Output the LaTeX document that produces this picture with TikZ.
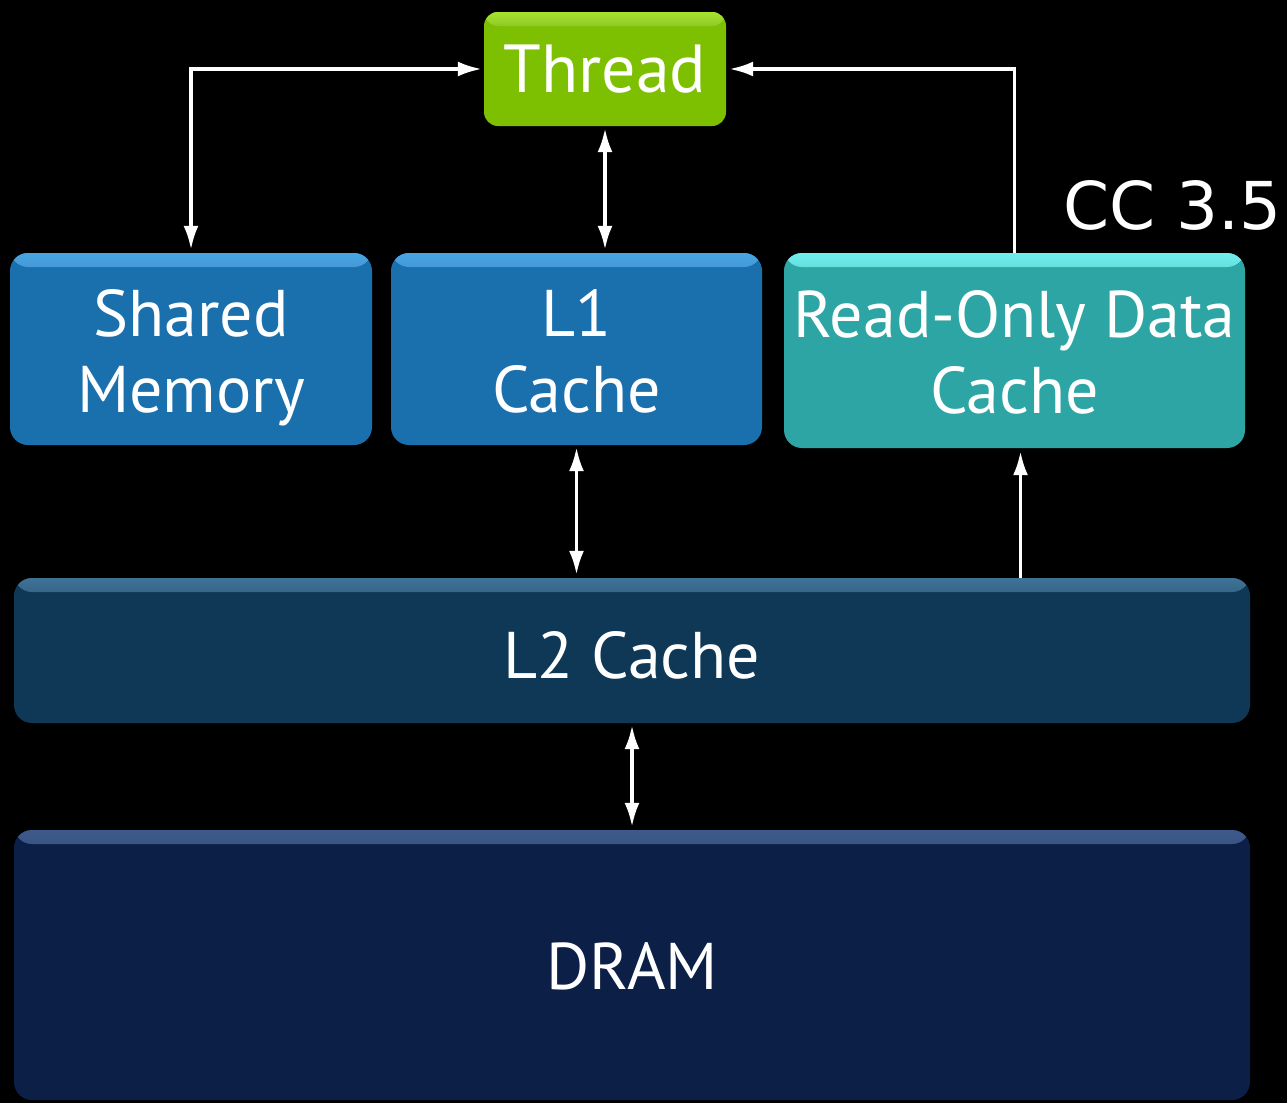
\documentclass[tikz,border=0pt]{standalone}
\usepackage{fontspec}
\setmainfont{PT Sans}
\newfontfamily\ccfont{DejaVu Sans}
\usetikzlibrary{arrows.meta,calc}
\definecolor{thrC}{HTML}{7DC002}
\definecolor{thrL}{HTML}{A6E62E}
\definecolor{memC}{HTML}{1A6FAD}
\definecolor{memL}{HTML}{4AA6E6}
\definecolor{rocC}{HTML}{2DA5A5}
\definecolor{rocL}{HTML}{6FF0F0}
\definecolor{ltwoC}{HTML}{0F3857}
\definecolor{ltwoL}{HTML}{3E7398}
\definecolor{dramC}{HTML}{0C1F47}
\definecolor{dramL}{HTML}{3E5A8C}
\newcommand{\twolines}[2]{\raisebox{0pt}[\dimexpr\height+20pt\relax][\depth]{\begin{tabular}{@{}c@{}}#1\\#2\end{tabular}}}
\newcommand{\lowered}[2]{\raisebox{0pt}[\dimexpr\height+#1\relax][\depth]{#2}}
\tikzset{
  box/.style={rounded corners=18pt, text=white, align=center, inner sep=0pt,
    font=\fontsize{66}{76}\selectfont},
  hl/.style={path picture={\shade[top color=#1, bottom color=.] ([yshift=1pt]path picture bounding box.north west) rectangle ([yshift=-14pt]path picture bounding box.north east);}},
  conn/.style={draw=white, line width=3.5pt},
  dbl/.style={conn, {Latex[length=24pt,width=15pt]}-{Latex[length=24pt,width=15pt]}, shorten <=2pt, shorten >=3pt},
  one/.style={conn, -{Latex[length=24pt,width=15pt]}, shorten >=3pt},
}
\begin{document}
\begin{tikzpicture}[x=1pt,y=-1pt]
\fill[black] (0,0) rectangle (1287,1103);
\useasboundingbox (0,0) rectangle (1287,1103);

\node[box, fill=thrC, hl=thrL, minimum width=242pt, minimum height=114pt, rounded corners=14pt, font=\fontsize{68}{76}\selectfont] (thread) at (605,69) {Thread};
\node[box, fill=memC, hl=memL, minimum width=362pt, minimum height=192pt] (shared) at (191,349) {\twolines{Shared}{Memory}};
\node[box, fill=memC, hl=memL, minimum width=371pt, minimum height=192pt] (l1) at (576.5,349) {\twolines{L1}{Cache}};
\node[box, fill=rocC, hl=rocL, minimum width=461pt, minimum height=195pt] (roc) at (1014.5,350.5) {\twolines{Read-Only Data}{Cache}};
\node[box, fill=ltwoC, hl=ltwoL, minimum width=1236pt, minimum height=145pt] (l2) at (632,650.5) {\lowered{10pt}{L2 Cache}};
\node[box, fill=dramC, hl=dramL, minimum width=1236pt, minimum height=270pt] (dram) at (632,965) {\lowered{2pt}{DRAM}};
\node[text=white, font=\ccfont\fontsize{66}{76}\selectfont, anchor=east, inner sep=0pt] (cc) at (1282,205) {CC 3.5};

\draw[dbl] (thread.west) -| (shared.north);
\draw[dbl] (thread.south) -- (thread.south |- l1.north);
\draw[one] (roc.north) |- (thread.east);
\draw[dbl] (l1.south) -- (l1.south |- l2.north);
\draw[one] ([xshift=6pt]roc.south |- l2.north) -- ([xshift=6pt]roc.south);
\draw[dbl] (l2.south) -- (dram.north);
\end{tikzpicture}
\end{document}
